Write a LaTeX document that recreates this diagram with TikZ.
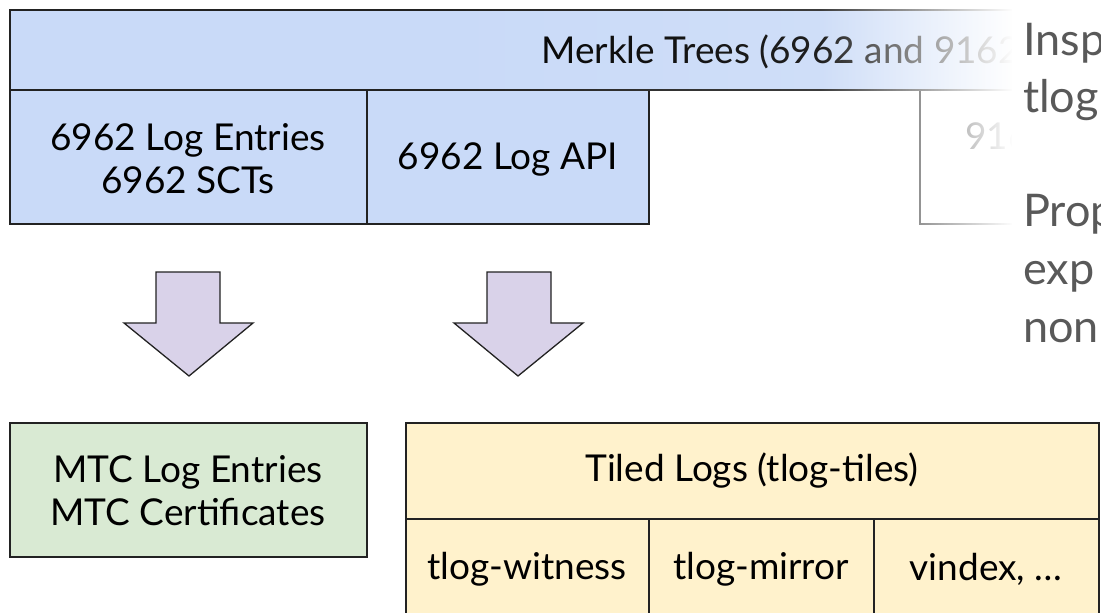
\documentclass[tikz,border=0pt]{standalone}
\usepackage{fontspec}
\setmainfont{Lato}
\usetikzlibrary{fadings}
\definecolor{bluefill}{HTML}{C9DAF8}
\definecolor{purplefill}{HTML}{D9D2E9}
\definecolor{greenfill}{HTML}{D9EAD3}
\definecolor{yellowfill}{HTML}{FFF2CC}
\definecolor{edge}{HTML}{222222}
\definecolor{sidegray}{HTML}{595959}
\tikzfading[name=fadeR, left color=transparent!100, middle color=transparent!50, right color=transparent!0]
\tikzfading[name=fadeSoft, left color=transparent!100, right color=transparent!88]
\tikzset{
  cell/.style={draw=edge, line width=1.3pt},
  lbl/.style={font=\fontsize{37}{43}\selectfont, align=center, inner sep=0pt, text=black},
  downarrow/.style={draw=edge, line width=1.3pt, fill=purplefill, line join=miter},
  side/.style={font=\fontsize{45}{52}\selectfont, text=sidegray, anchor=base west, inner sep=0pt}
}
\begin{document}
\begin{tikzpicture}[x=1pt,y=-1pt]
\useasboundingbox (0,0) rectangle (1101,613);
\clip (0,0) rectangle (1101,613);
% top bar
\draw[cell, fill=bluefill] (10,10) rectangle (1110,90);
\node[lbl, anchor=base west] (merkle) at (541,63) {Merkle Trees (6962 and 9162)};
% 6962 boxes
\draw[cell, fill=bluefill] (10,90) rectangle (367,224);
\node[lbl] (entries) at (188,159) {6962 Log Entries\\6962 SCTs};
\draw[cell, fill=bluefill] (367,90) rectangle (649,224);
\node[lbl] (api) at (508,159) {6962 Log API};
% 9162 box (faded)
\draw[cell, fill=white] (920,90) rectangle (1110,224);
\node[lbl, anchor=base west] (nine) at (965,149) {9162};
% fade overlay
\fill[white, path fading=fadeSoft] (420,0) rectangle (820,91);
\fill[white, opacity=0.12] (820,0) rectangle (1013,91);
\fill[white, path fading=fadeR] (820,0) rectangle (1013,236);
\fill[white] (1012,0) rectangle (1101,236);
% side texts
\node[side] (t1) at (1023,55) {Insp};
\node[side] (t2) at (1023,112) {tlog};
\node[side] (t3) at (1023,226) {Prop};
\node[side] (t4) at (1023,284) {exp};
\node[side] (t5) at (1023,342) {non};
% arrows
\draw[downarrow] (156,272) -- (220,272) -- (220,323) -- (253,323) -- (189,376) -- (124,323) -- (156,323) -- cycle;
\draw[downarrow] (487,272) -- (551,272) -- (551,323) -- (583,323) -- (518,376) -- (454,323) -- (487,323) -- cycle;
% MTC box
\draw[cell, fill=greenfill] (10,423) rectangle (367,557);
\node[lbl] (mtc) at (188,491) {MTC Log Entries\\MTC Certificates};
% tiled logs
\draw[cell, fill=yellowfill] (406,423) rectangle (1099,640);
\draw[cell] (406,519) -- (1099,519);
\draw[cell] (649,519) -- (649,640);
\draw[cell] (874,519) -- (874,640);
\node[lbl] (tiles) at (752,471) {Tiled Logs (tlog-tiles)};
\node[lbl] (witness) at (527,569) {tlog-witness};
\node[lbl] (mirror) at (761,569) {tlog-mirror};
\node[lbl] (vindex) at (986,569) {vindex, \dots};
\end{tikzpicture}
\end{document}
